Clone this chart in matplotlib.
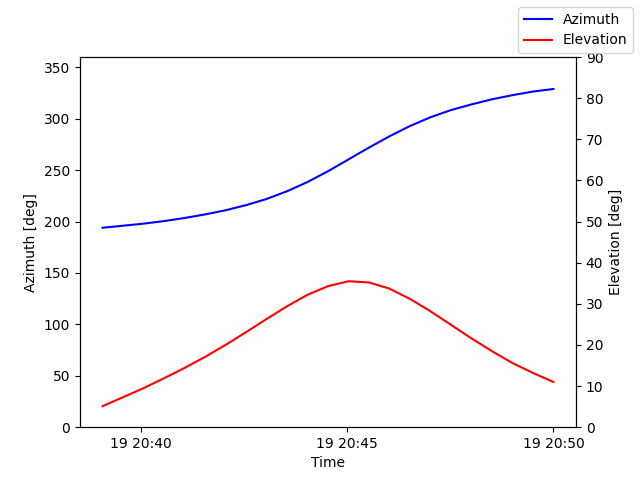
import matplotlib
matplotlib.use("Agg")
import matplotlib.pyplot as plt
import matplotlib.dates as mdates
import pandas as pd

times = pd.date_range("2024-01-19 20:39:04", "2024-01-19 20:50:00", periods=23)

azimuth = [194, 196, 198, 200.5, 203.5, 207, 211, 216, 222, 229.5, 238.5, 249,
           260.5, 272, 283, 293, 301.5, 308.5, 314, 319, 323, 326.5, 329]
elevation = [5.1, 7.3, 9.5, 11.9, 14.4, 17.1, 20.0, 23.1, 26.3, 29.4, 32.2, 34.3,
             35.5, 35.2, 33.7, 31.2, 28.2, 24.9, 21.6, 18.5, 15.6, 13.2, 11.0]

fig, ax = plt.subplots(figsize=(6.4, 4.8), dpi=100)
fig.subplots_adjust(left=0.125, right=0.9, top=0.881, bottom=0.11)
ax.plot(times, azimuth, color="blue", label="Azimuth")
ax.set_ylim(0, 360)
ax.set_ylabel("Azimuth [deg]")
ax.set_xlabel("Time")
ax.xaxis.set_major_locator(mdates.MinuteLocator(byminute=range(0, 60, 5)))
ax.xaxis.set_major_formatter(mdates.DateFormatter("%d %H:%M"))

ax2 = ax.twinx()
ax2.plot(times, elevation, color="red", label="Elevation")
ax2.set_ylim(0, 90)
ax2.set_ylabel("Elevation [deg]")

fig.legend(loc="upper right")
fig.savefig("out.png")
